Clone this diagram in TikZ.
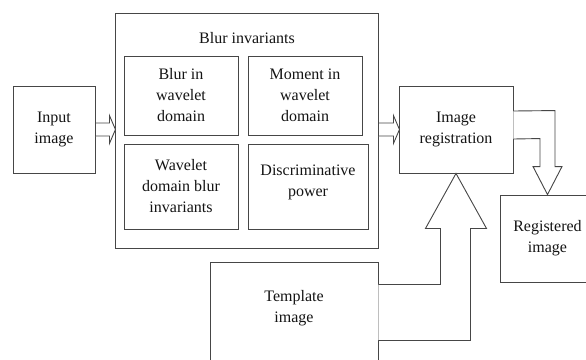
\documentclass[tikz,border=0pt]{standalone}
\usepackage{fontspec}
\setmainfont{Liberation Serif}
\usepackage{tikz}
\usetikzlibrary{calc}
\definecolor{linegray}{RGB}{70,70,70}
\definecolor{txtdark}{RGB}{20,20,20}
\tikzset{
  box/.style={rectangle, draw=linegray, fill=white, line width=0.9pt,
    align=center, inner sep=2pt, text=txtdark,
    font=\fontsize{16}{21}\selectfont},
  inbox/.style={box, minimum width=114, minimum height=79},
  hollow/.style={draw=linegray, fill=white, line width=0.9pt, line join=miter}
}

\begin{document}
\begin{tikzpicture}[x=1pt, y=-1pt]
  \useasboundingbox (0,0) rectangle (586,359);
  \clip (0,0) rectangle (586,359);

  % Input
  \node[box, minimum width=82, minimum height=87] (input) at (54,129.5) {Input\\image};

  % Blur invariants group
  \node[box, minimum width=263, minimum height=235] (blur) at (246.5,130.5) {};
  \node[text=txtdark, font=\fontsize{16}{21}\selectfont] (title) at (247,38) {Blur invariants};
  \node[inbox] (bwave) at (181,95.5) {Blur in\\wavelet\\domain};
  \node[inbox] (moment) at (305,95.5) {Moment in\\wavelet\\domain};
  \node[inbox, minimum height=85] (wdbi) at (181,186.5) {Wavelet\\domain blur\\invariants};
  \node[inbox, minimum width=120, minimum height=85] (discr) at (308,186.5) {Discriminative\\power\\[-10pt]\mbox{}};

  % Registration and output
  \node[box, minimum width=114, minimum height=87] (reg) at (456,129.5) {Image\\registration};
  \node[box, minimum width=95, minimum height=87] (out) at (547.5,238.5) {Registered\\image};

  % Template
  \node[box, minimum width=168, minimum height=108, anchor=north] (tmpl) at (294,262) {Template\\image\\\mbox{}};

  % Hollow arrows
  \draw[hollow, shift={(input.east)}] (0,-6.5) -- (14,-6.5) -- (14,-14) -- (20,0)
    -- (14,14) -- (14,6.5) -- (0,6.5) -- cycle;
  \draw[hollow, shift={(blur.east |- reg.west)}] (0,-6.5) -- (15,-6.5) -- (15,-14) -- (21,0)
    -- (15,14) -- (15,6.5) -- (0,6.5) -- cycle;

  % Registration to registered image
  \draw[hollow] ($(reg.east)+(0,-18.5)$) -- ($(out.north)+(7.5,-84)$)
    -- ($(out.north)+(7.5,-28)$) -- ($(out.north)+(14.5,-28)$) -- (out.north)
    -- ($(out.north)+(-14.5,-28)$) -- ($(out.north)+(-7.5,-28)$)
    -- ($(out.north)+(-7.5,-56)$) -- ($(reg.east)+(0,9.5)$);

  % Template to registration
  \coordinate (ta) at ($(tmpl.east)+(0,-32)$);
  \coordinate (tb) at ($(tmpl.east)+(0,24)$);
  \coordinate (sl) at ($(reg.south)+(-15.5,55)$);
  \coordinate (sr) at ($(reg.south)+(14.5,55)$);
  \draw[hollow] (ta) -- (ta -| sl) -- (sl) -- ($(reg.south)+(-30.5,55)$) -- (reg.south)
    -- ($(reg.south)+(30.5,55)$) -- (sr) -- (tb -| sr) -- (tb);
\end{tikzpicture}
\end{document}
